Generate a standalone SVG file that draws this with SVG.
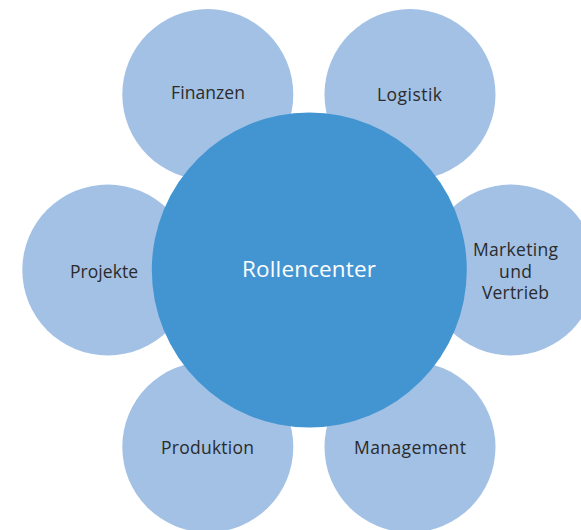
<svg xmlns="http://www.w3.org/2000/svg" width="581" height="530" viewBox="0 0 581 530">
<style>
.s{fill:#a2c1e5}
.c{fill:#4395d2}
text{font-family:"Open Sans","Noto Sans",sans-serif;text-anchor:middle;font-size:17.5px;fill:#2b2b2b}
.m{font-size:22.5px;fill:#fff}
</style>
<rect width="581" height="530" fill="#fff"/>
<g id="finanzen"><circle class="s" cx="207.800" cy="94.500" r="85.500"/><text x="208" y="99" textLength="74">Finanzen</text></g>
<g id="logistik"><circle class="s" cx="410" cy="94.500" r="85.500"/><text x="409.500" y="101" textLength="65">Logistik</text></g>
<g id="marketing"><circle class="s" cx="511" cy="270" r="85.500"/><text x="515.500" y="256" textLength="85">Marketing</text><text x="515.500" y="278" textLength="33">und</text><text x="515.500" y="299" textLength="67">Vertrieb</text></g>
<g id="management"><circle class="s" cx="410" cy="447" r="85.500"/><text x="410" y="454" textLength="112">Management</text></g>
<g id="produktion"><circle class="s" cx="207.800" cy="447" r="85.500"/><text x="207.500" y="454" textLength="93">Produktion</text></g>
<g id="projekte"><circle class="s" cx="107.800" cy="270" r="85.500"/><text x="104" y="278" textLength="68">Projekte</text></g>
<g id="rollencenter"><circle class="c" cx="309.300" cy="270" r="157.500"/><text class="m" x="309" y="277" textLength="134">Rollencenter</text></g>
<g id="connectors"/>
</svg>
